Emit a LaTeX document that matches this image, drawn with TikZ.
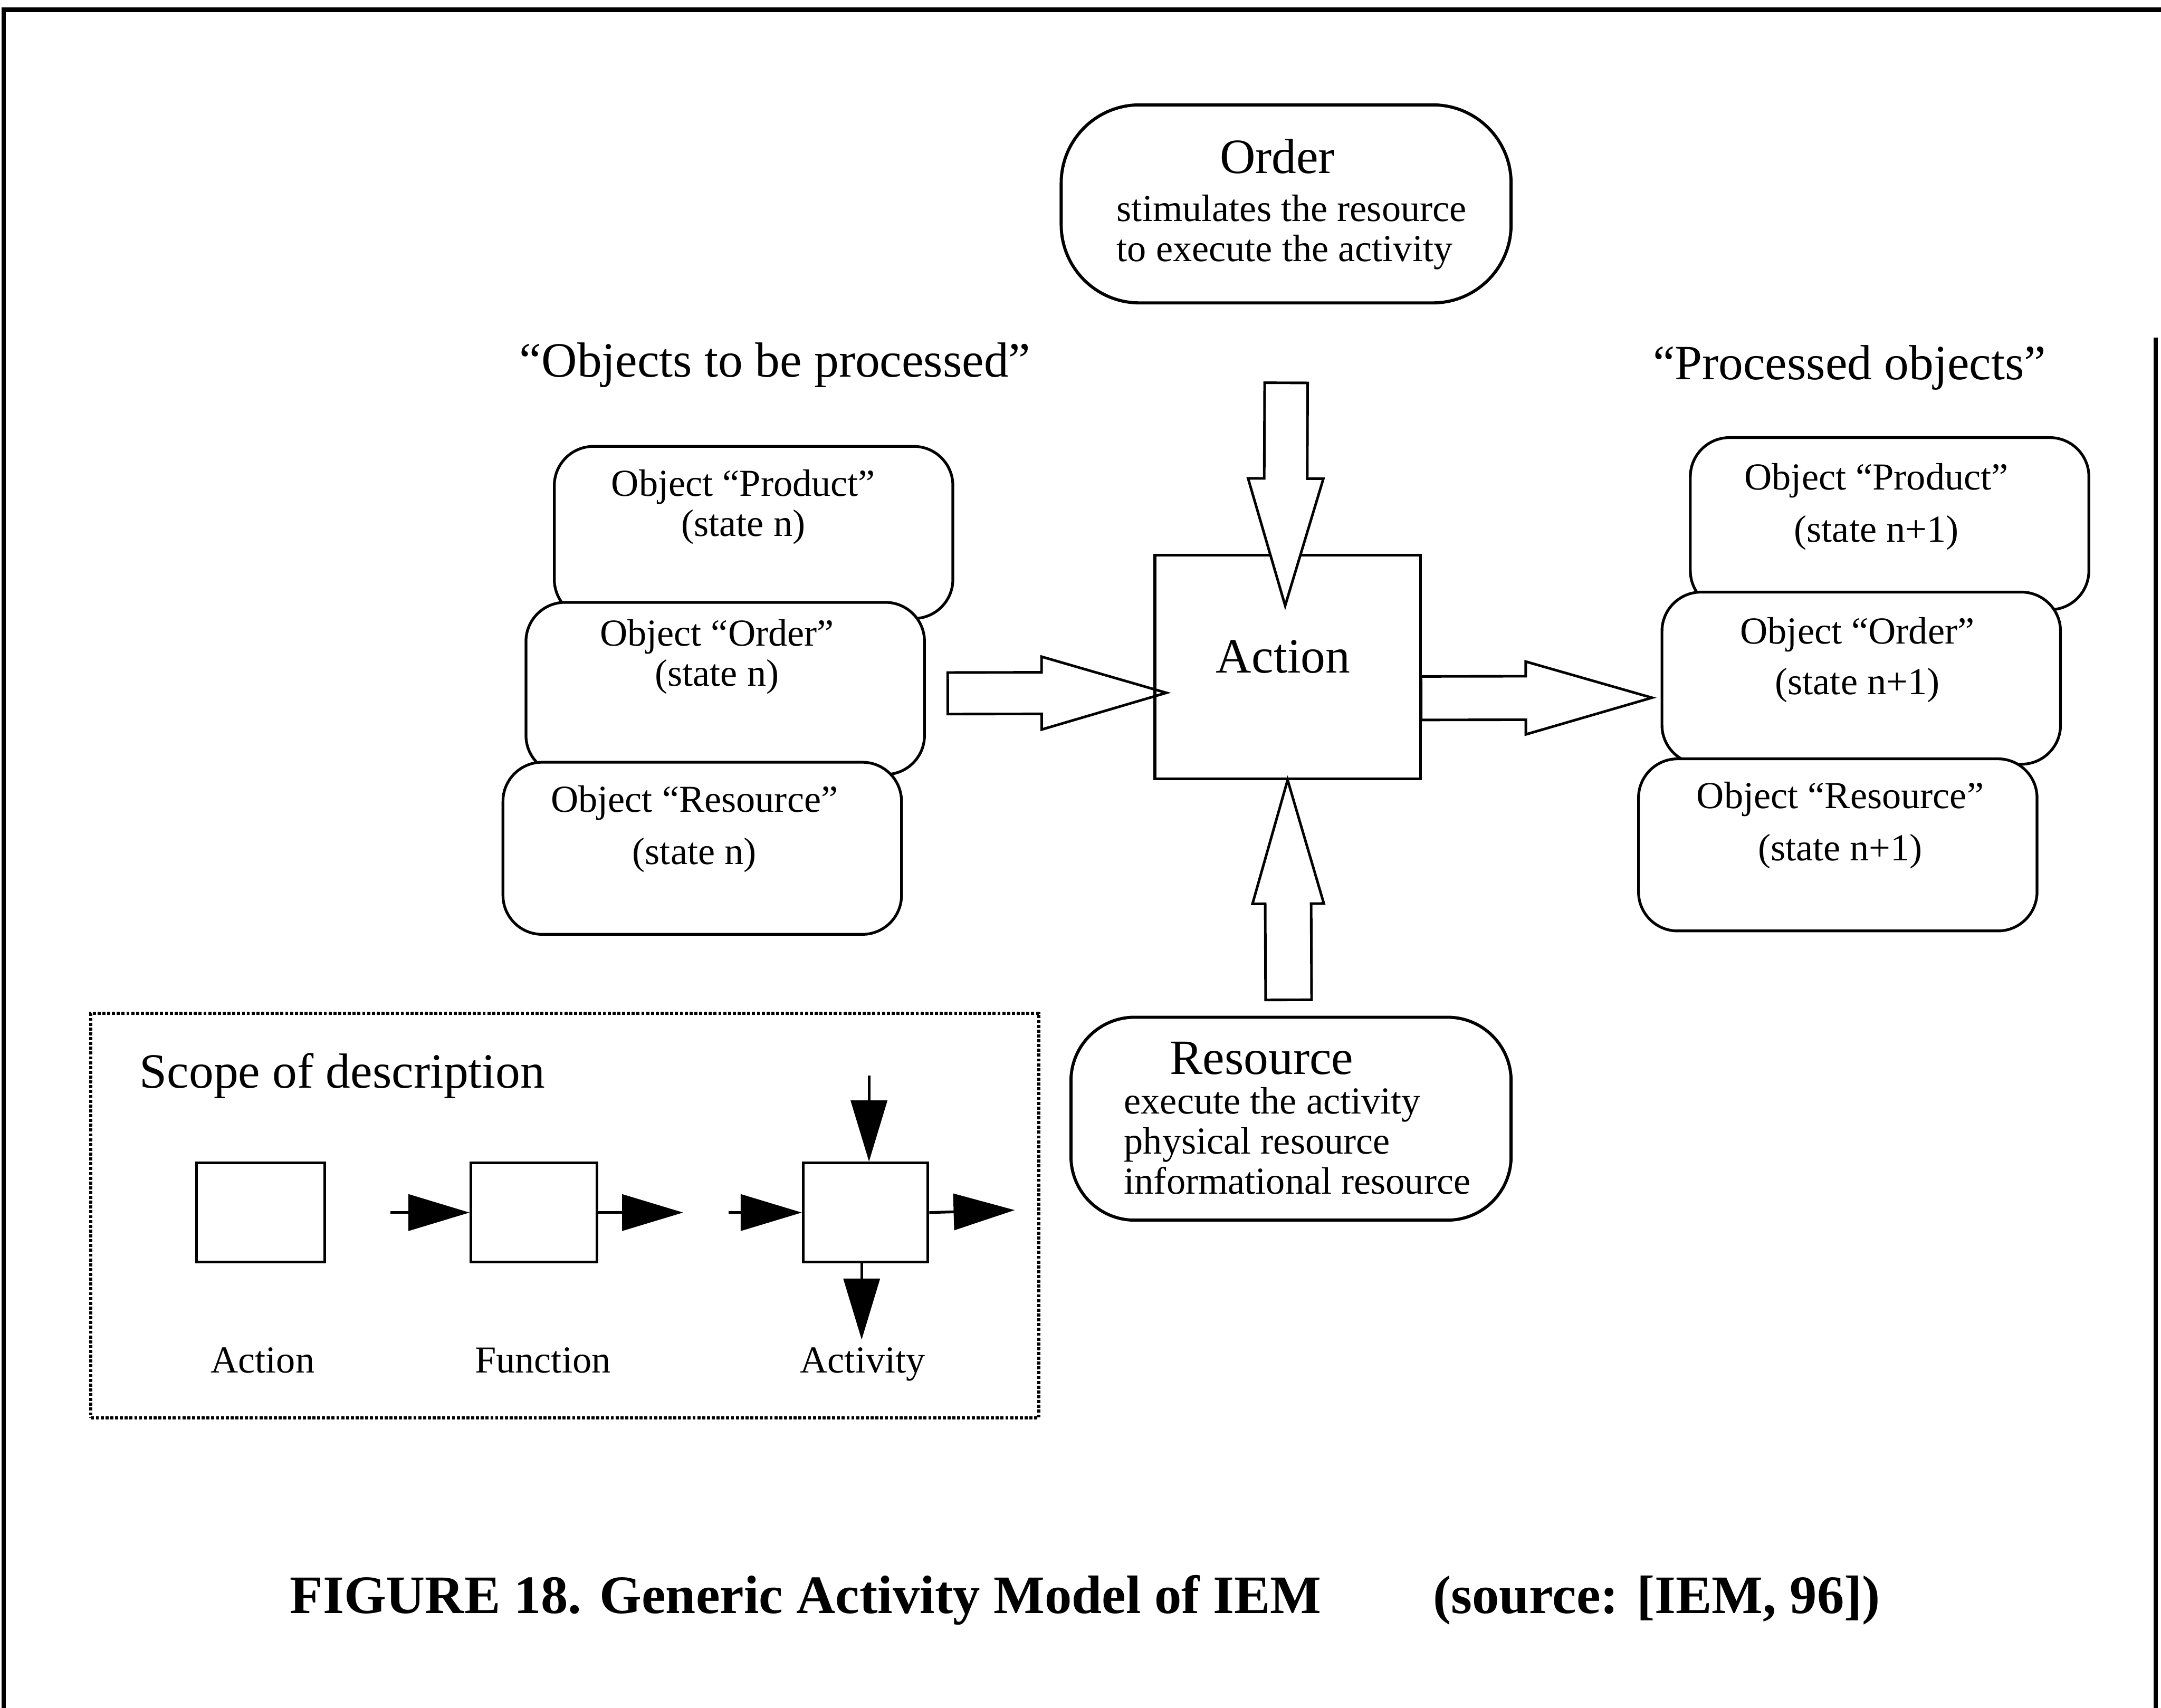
\documentclass[tikz,border=0pt]{standalone}
\usepackage{fontspec}
\setmainfont{Liberation Serif}
\usetikzlibrary{calc,arrows.meta}

\newcommand{\bigtxt}{\fontsize{28.7pt}{34pt}\selectfont}
\newcommand{\smtxt}{\fontsize{22.2pt}{23.3pt}\selectfont}
\newcommand{\captxt}{\fontsize{31.5pt}{36pt}\selectfont\bfseries}

% outlined block arrow: tail, tip, shaft half width, head half width, head length
\newcommand{\fatarrow}[5]{%
  \coordinate (neck) at ($(#2)!#5!(#1)$);
  \path[draw,fill=white,line width=1.5pt,line join=miter]
    ($(#1)!#3!90:(#2)$) -- ($(neck)!#3!90:(#2)$) -- ($(neck)!#4!90:(#2)$) -- (#2)
    -- ($(neck)!#4!-90:(#2)$) -- ($(neck)!#3!-90:(#2)$) -- ($(#1)!#3!-90:(#2)$) -- cycle;
}

\begin{document}
\begin{tikzpicture}[
  rbox/.style={draw, fill=white, line width=1.8pt, rounded corners=1.6cm},
  objbox/.style={draw, fill=white, line width=1.6pt, rounded corners=0.8cm, minimum width=8.15cm, minimum height=3.52cm},
  sqbox/.style={draw, line width=1.6pt},
  objtxt/.style={font=\smtxt, align=center},
  legarr/.style={draw, line width=1.6pt, -{Triangle[length=1.25cm,width=0.74cm]}}
]
\useasboundingbox (0,0) rectangle (44.19,-34.93);

% frame
\path[draw,line width=2.5pt] (0.08,-34.93) -- (0.08,-0.2) -- (44.19,-0.2);
\path[draw,line width=2.5pt] (44.08,-6.9) -- (44.08,-34.93);

% titles
\node[font=\bigtxt] (intitle) at (15.85,-7.47) {“Objects to be processed”};
\node[font=\bigtxt] (outtitle) at (37.82,-7.52) {“Processed objects”};

% order and resource
\node[rbox, minimum width=9.2cm, minimum height=4.05cm] (ord) at (26.3,-4.17) {};
\node[font=\bigtxt] (ordname) at (26.12,-3.2) {Order};
\node[font=\smtxt, align=left, anchor=west, inner sep=0pt] (orddesc) at (22.83,-4.75) {stimulates the resource\\to execute the activity};

\node[rbox, rounded corners=1.3cm, minimum width=9.0cm, minimum height=4.15cm] (res) at (26.4,-22.88) {};
\node[font=\bigtxt] (resname) at (25.8,-21.65) {Resource};
\node[font=\smtxt, align=left, anchor=west, inner sep=0pt] (resdesc) at (22.98,-23.33) {execute the activity\\physical resource\\informational resource};

% objects to be processed
\node[objbox] (lprod) at (15.41,-10.89) {};
\node[objtxt] (lprodtxt) at (15.2,-10.37) {Object “Product”\\(state n)};
\node[objbox] (lord) at (14.83,-14.08) {};
\node[objtxt] (lordtxt) at (14.66,-13.43) {Object “Order”\\(state n)};
\node[objbox] (lres) at (14.36,-17.35) {};
\node[objtxt] (lrestxt) at (14.2,-16.96) {Object “Resource”\\[0.25cm](state n)};

% processed objects
\node[objbox] (rprod) at (38.64,-10.71) {};
\node[objtxt] (rprodtxt) at (38.37,-10.36) {Object “Product”\\[0.25cm](state n+1)};
\node[objbox] (rord) at (38.06,-13.87) {};
\node[objtxt] (rordtxt) at (37.98,-13.5) {Object “Order”\\[0.22cm](state n+1)};
\node[objbox] (rres) at (37.58,-17.28) {};
\node[objtxt] (rrestxt) at (37.63,-16.88) {Object “Resource”\\[0.25cm](state n+1)};

% action
\coordinate (intail) at (19.38,-14.18);
\coordinate (intip) at (23.85,-14.17);
\fatarrow{intail}{intip}{0.425cm}{0.745cm}{2.55cm}
\coordinate (outtail) at (29.06,-14.28);
\coordinate (outtip) at (33.78,-14.27);
\fatarrow{outtail}{outtip}{0.445cm}{0.745cm}{2.58cm}

\node[sqbox, minimum width=5.43cm, minimum height=4.57cm] (act) at (26.33,-13.64) {};
\node[font=\bigtxt] (actname) at (26.24,-13.43) {Action};

\coordinate (ordtail) at (26.3,-7.83);
\coordinate (ordtip) at ($(act.north)+(-0.05,-1.06)$);
\fatarrow{ordtail}{ordtip}{0.44cm}{0.77cm}{2.6cm}
\coordinate (restail) at (26.35,-20.45);
\fatarrow{restail}{act.south}{0.47cm}{0.73cm}{2.53cm}

% scope of description
\node[draw, densely dotted, line width=1.8pt, minimum width=19.38cm, minimum height=8.28cm] (scope) at (11.55,-24.86) {};
\node[font=\bigtxt, anchor=west, inner sep=0pt] (scopename) at (2.85,-22.0) {Scope of description};

\node[sqbox, minimum width=2.62cm, minimum height=2.03cm] (lact) at (5.33,-24.8) {};
\node[sqbox, minimum width=2.58cm, minimum height=2.03cm] (lfun) at (10.92,-24.8) {};
\node[sqbox, minimum width=2.55cm, minimum height=2.03cm] (lacty) at (17.7,-24.8) {};

\node[font=\smtxt, anchor=base] (lactlbl) at (5.37,-28.08) {Action};
\node[font=\smtxt, anchor=base] (lfunlbl) at (11.1,-28.08) {Function};
\node[font=\smtxt, anchor=base] (lactylbl) at (17.64,-28.08) {Activity};

\coordinate (funin) at (7.98,-24.8);
\coordinate (funout) at (13.97,-24.8);
\coordinate (actyin) at (14.9,-24.8);
\coordinate (actyout) at (20.75,-24.75);
\coordinate (actytop) at (17.77,-22.0);
\coordinate (actybot) at (17.62,-27.4);

\path[legarr] (funin) -- (lfun.west);
\path[legarr] (lfun.east) -- (funout);
\path[legarr] (actyin) -- (lacty.west);
\path[legarr] (lacty.east) -- (actyout);
\path[legarr] (actytop) -- (actytop |- lacty.north);
\path[legarr] (actybot |- lacty.south) -- (actybot);

% caption
\node[font=\captxt, anchor=base west, inner sep=0pt] (cap) at (5.92,-33.0) {FIGURE 18. Generic Activity Model of IEM};
\node[font=\captxt, anchor=base west, inner sep=0pt] (capsrc) at (29.3,-33.0) {(source: [IEM, 96])};
\end{tikzpicture}
\end{document}
